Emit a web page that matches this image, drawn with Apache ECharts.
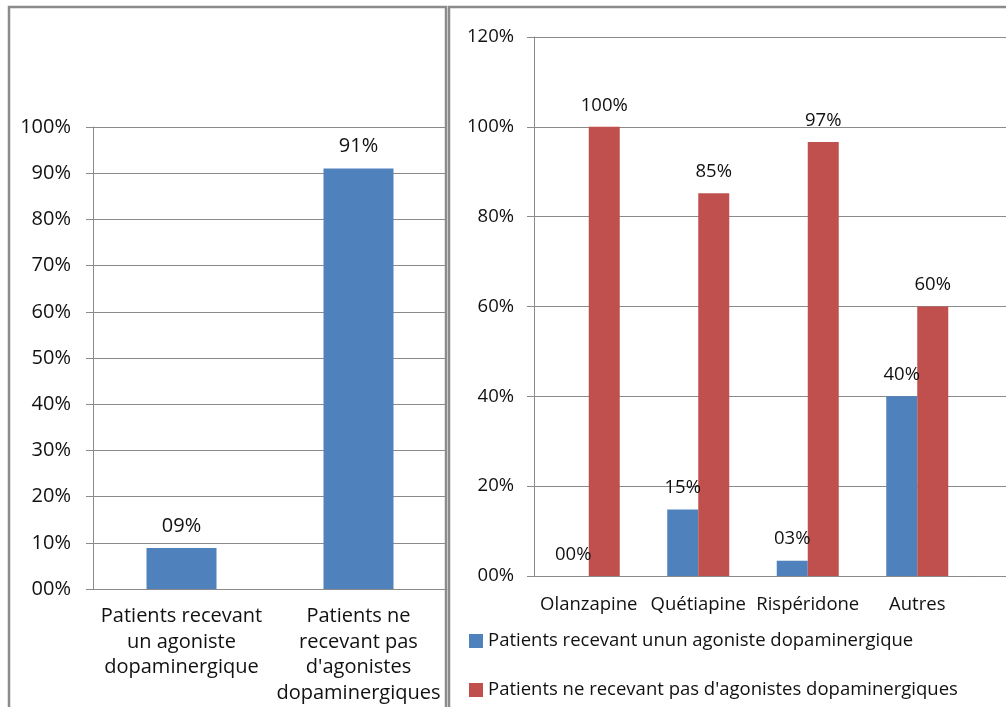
<!DOCTYPE html>
<html>
<head>
<meta charset="utf-8">
<script src="https://cdn.jsdelivr.net/npm/echarts@6/dist/echarts.min.js"></script>
<style>
html,body{margin:0;padding:0;background:#fff;}
#c{width:1006px;height:707px;}
</style>
</head>
<body>
<div id="c"></div>
<script>
// ---- data ----
var leftCategories = ['Patients recevant\nun agoniste\ndopaminergique', "Patients ne\nrecevant pas\nd'agonistes\ndopaminergiques"];
var leftValues = [8.9, 91];
var leftTicks = { min: 0, max: 100, interval: 10 };

var rightCategories = ['Olanzapine', 'Quétiapine', 'Rispéridone', 'Autres'];
var seriesNames = ['Patients recevant unun agoniste dopaminergique', "Patients ne recevant pas d'agonistes dopaminergiques"];
var agonistValues = [0, 14.8, 3.4, 40];
var noAgonistValues = [100, 85.2, 96.6, 60];
var rightTicks = { min: 0, max: 120, interval: 20 };

function pct(v) {
  var r = Math.round(v);
  return (r < 10 ? '0' + r : '' + r) + '%';
}

var FONT = 'Open Sans';
var TXT = '#111';
var GRID = '#8a8a8a';
var BLUE = '#4F81BD';
var RED = '#C0504D';

var chart = echarts.init(document.getElementById('c'));

function yAxisCfg(gi, t, fs, show, margin) {
  return {
    type: 'value', gridIndex: gi, min: t.min, max: t.max, interval: t.interval,
    axisLine: { show: show, lineStyle: { color: GRID, width: 1 } },
    axisTick: { show: show, length: 7, lineStyle: { color: GRID } },
    axisLabel: { show: show, formatter: pct, fontFamily: FONT, fontSize: fs, color: TXT, margin: margin },
    splitLine: { show: true, lineStyle: { color: GRID, width: 1 } }
  };
}

var option = {
  animation: false,
  backgroundColor: '#fff',
  graphic: [
    { type: 'rect', shape: { x: 9, y: 7, width: 437, height: 720 }, style: { fill: 'none', stroke: '#8c8c8c', lineWidth: 2.5 }, z: 100 },
    { type: 'rect', shape: { x: 449, y: 7, width: 600, height: 720 }, style: { fill: 'none', stroke: '#8c8c8c', lineWidth: 2.5 }, z: 100 }
  ],
  grid: [
    { left: 93, top: 127, width: 354, height: 462 },
    { left: 534, top: 37, width: 438, height: 539 },
    { left: 534, top: 37, width: 480, height: 539 }
  ],
  legend: {
    orient: 'vertical', left: 464, top: 626, itemWidth: 14, itemHeight: 14, itemGap: 29,
    icon: 'rect',
    textStyle: { fontFamily: FONT, fontSize: 18.5, color: TXT, lineHeight: 20 },
    data: seriesNames
  },
  xAxis: [
    {
      type: 'category', gridIndex: 0, data: leftCategories,
      axisLine: { lineStyle: { color: GRID } },
      axisTick: { length: 6, lineStyle: { color: GRID } },
      axisLabel: { fontFamily: FONT, fontSize: 20, color: TXT, lineHeight: 25.5, margin: 15, interval: 0 }
    },
    {
      type: 'category', gridIndex: 1, data: rightCategories,
      axisLine: { lineStyle: { color: GRID } },
      axisTick: { length: 6, lineStyle: { color: GRID } },
      axisLabel: { fontFamily: FONT, fontSize: 18.5, color: TXT, lineHeight: 25, margin: 16, interval: 0 }
    },
    { type: 'value', gridIndex: 2, min: 0, max: 1, show: false }
  ],
  yAxis: [
    yAxisCfg(0, leftTicks, 20, true, 22),
    yAxisCfg(1, rightTicks, 18.5, true, 20),
    yAxisCfg(2, rightTicks, 18.5, false, 20)
  ],
  series: [
    {
      type: 'bar', xAxisIndex: 0, yAxisIndex: 0, data: leftValues, barWidth: 70,
      itemStyle: { color: BLUE },
      label: { show: true, position: 'top', distance: 12, formatter: function (p) { return pct(p.value); }, fontFamily: FONT, fontSize: 20, color: TXT }
    },
    {
      name: seriesNames[0], type: 'bar', xAxisIndex: 1, yAxisIndex: 1, data: agonistValues, barWidth: 31, barGap: '0%',
      itemStyle: { color: BLUE },
      label: { show: true, position: 'top', distance: 12, formatter: function (p) { return pct(p.value); }, fontFamily: FONT, fontSize: 18.5, color: TXT }
    },
    {
      name: seriesNames[1], type: 'bar', xAxisIndex: 1, yAxisIndex: 1, data: noAgonistValues, barWidth: 31, barGap: '0%',
      itemStyle: { color: RED },
      label: { show: true, position: 'top', distance: 12, formatter: function (p) { return pct(p.value); }, fontFamily: FONT, fontSize: 18.5, color: TXT }
    }
  ]
};
chart.setOption(option);
</script>
</body>
</html>
